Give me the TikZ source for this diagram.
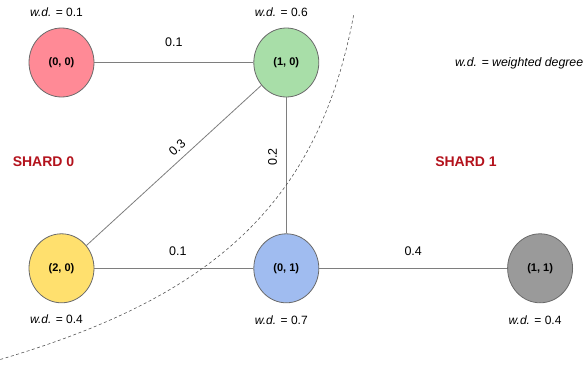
\documentclass[tikz,border=0pt]{standalone}
\usepackage{fontspec}
\setmainfont{Liberation Sans}
\usepackage{xcolor}
\definecolor{ShardRed}{HTML}{B3121C}
\definecolor{CellPink}{HTML}{FF8A96}
\definecolor{CellGreen}{HTML}{A8DEA8}
\definecolor{CellYellow}{HTML}{FFE06E}
\definecolor{CellBlue}{HTML}{A0BCF0}
\definecolor{CellGray}{HTML}{9A9A9A}
\definecolor{RimGray}{HTML}{6A6A6A}
\definecolor{LinkGray}{HTML}{7E7E7E}
\definecolor{CutGray}{HTML}{555555}
\usepackage{tikz}
\usetikzlibrary{shapes.geometric,positioning}

\begin{document}
\begin{tikzpicture}[
  x=1pt, y=1pt,
  vertex/.style={ellipse, draw=RimGray, line width=0.8pt,
                 minimum width=65pt, minimum height=69pt, inner sep=0pt,
                 font=\fontsize{11}{13}\selectfont\bfseries},
  link/.style={draw=LinkGray, line width=0.8pt},
  cut/.style={draw=CutGray, line width=0.6pt, dash pattern=on 3pt off 2.5pt},
  elabel/.style={font=\fontsize{12.5}{14}\selectfont, inner sep=1pt},
  wdlabel/.style={font=\fontsize{12}{14}\selectfont, inner sep=1pt, xshift=-5pt},
  shard/.style={font=\fontsize{14}{16}\selectfont\bfseries, text=ShardRed},
]
\useasboundingbox (0,0) rectangle (586,-364);

\node[vertex, fill=CellPink] (n00) at (61.5,-62.5) {(0, 0)};
\node[vertex, fill=CellGreen, right=159pt of n00] (n10) {(1, 0)};
\node[vertex, fill=CellYellow, below=136pt of n00] (n20) {(2, 0)};
\node[vertex, fill=CellBlue, below=136pt of n10] (n01) {(0, 1)};
\node[vertex, fill=CellGray, right=188pt of n01] (n11) {(1, 1)};

\node[wdlabel, above=10pt of n00] (wd00) {\textit{w.d.} = 0.1};
\node[wdlabel, above=10pt of n10] (wd10) {\textit{w.d.} = 0.6};
\node[wdlabel, below=10pt of n20] (wd20) {\textit{w.d.} = 0.4};
\node[wdlabel, below=11pt of n01] (wd01) {\textit{w.d.} = 0.7};
\node[wdlabel, below=11pt of n11] (wd11) {\textit{w.d.} = 0.4};

\draw[link] (n00) -- node[elabel, above=14pt] (w0010) {0.1} (n10);
\draw[link] (n20) -- node[elabel, pos=0.56, sloped, above=5pt] (w2010) {0.3} (n10);
\draw[link] (n01) -- node[elabel, pos=0.56, sloped, above=8pt] (w0110) {0.2} (n10);
\draw[link] (n20) -- node[elabel, above=11pt, xshift=4pt] (w2001) {0.1} (n01);
\draw[link] (n01) -- node[elabel, above=11pt] (w0111) {0.4} (n11);

\draw[cut] (-5,-361) .. controls (205,-300) and (318,-210) .. (354,-13);

\node[shard] (shard0) at (43.5,-162) {SHARD 0};
\node[shard] (shard1) at (466,-162) {SHARD 1};
\node[anchor=west, inner sep=0pt, font=\fontsize{12.3}{14}\selectfont] (legend)
  at (455,-63) {\textit{w.d. = weighted degree}};
\end{tikzpicture}
\end{document}
